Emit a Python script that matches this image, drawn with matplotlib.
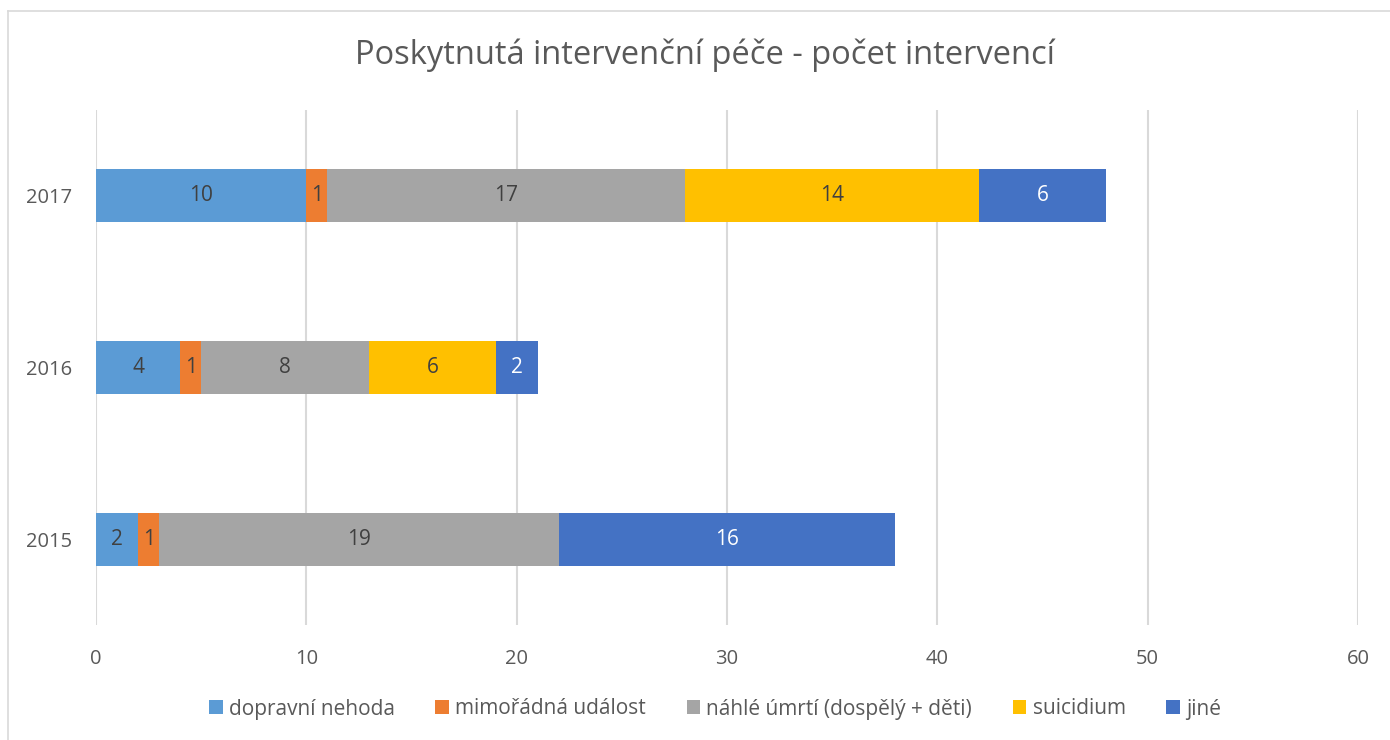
import matplotlib
matplotlib.use('Agg')
import matplotlib.pyplot as plt
from matplotlib.lines import Line2D
import numpy as np

plt.rcParams['font.family'] = ['Open Sans', 'DejaVu Sans']

years = ['2015', '2016', '2017']
series_names = ['dopravní nehoda', 'mimořádná událost', 'náhlé úmrtí (dospělý + děti)',
                'suicidium', 'jiné']
dopravni = [2, 4, 10]
mimoradna = [1, 1, 1]
nahle = [19, 8, 17]
suicidium = [0, 6, 14]
jine = [16, 2, 6]
values = [dopravni, mimoradna, nahle, suicidium, jine]

colors = ['#5B9BD5', '#ED7D31', '#A5A5A5', '#FFC000', '#4472C4']
label_colors = ['#404040', '#404040', '#404040', '#404040', '#FFFFFF']
text_col = '#595959'

fig = plt.figure(figsize=(13.9, 7.4), dpi=100)
ax = fig.add_axes([96 / 1390, 1 - 625 / 740, (1358 - 96) / 1390, (625 - 110) / 740])

y = np.arange(len(years))
left = np.zeros(len(years))
for vals, name, col, lcol in zip(values, series_names, colors, label_colors):
    vals = np.array(vals, dtype=float)
    bars = ax.barh(y, vals, left=left, height=0.31, color=col, label=name, zorder=3)
    for b, v in zip(bars, vals):
        if v > 0:
            ax.text(b.get_x() + b.get_width() / 2, b.get_y() + b.get_height() / 2,
                    '%d' % v, ha='center', va='center', fontsize=15, color=lcol, zorder=4)
    left += vals

ax.set_xlim(0, 60)
ax.set_ylim(-0.5, 2.5)
ax.set_xticks(range(0, 61, 10))
ax.set_yticks(y)
ax.set_yticklabels(years)
ax.grid(axis='x', color='#D9D9D9', linewidth=1.5, zorder=0)
ax.set_axisbelow(True)
for s in ax.spines.values():
    s.set_visible(False)
ax.tick_params(axis='both', length=0, labelsize=14.5, labelcolor=text_col)
ax.tick_params(axis='x', pad=17)
ax.tick_params(axis='y', pad=17)

fig.text(705 / 1390, 1 - 55 / 740, 'Poskytnutá intervenční péče - počet intervencí',
         ha='center', va='center', fontsize=23.5, color=text_col)

fig.legend(loc='center', bbox_to_anchor=(715 / 1390, 1 - 709 / 740), ncol=5, frameon=False,
           fontsize=15, labelcolor=text_col, handlelength=0.65, handleheight=0.65,
           handletextpad=0.3, columnspacing=1.95)

# chart area border (top and left edges visible)
fig.add_artist(Line2D([8 / 1390, 1.0], [1 - 11 / 740, 1 - 11 / 740], color='#D9D9D9',
                      linewidth=1.2, transform=fig.transFigure))
fig.add_artist(Line2D([8 / 1390, 8 / 1390], [0.0, 1 - 11 / 740], color='#D9D9D9',
                      linewidth=1.2, transform=fig.transFigure))

fig.savefig('out.png', dpi=100, facecolor='white')
